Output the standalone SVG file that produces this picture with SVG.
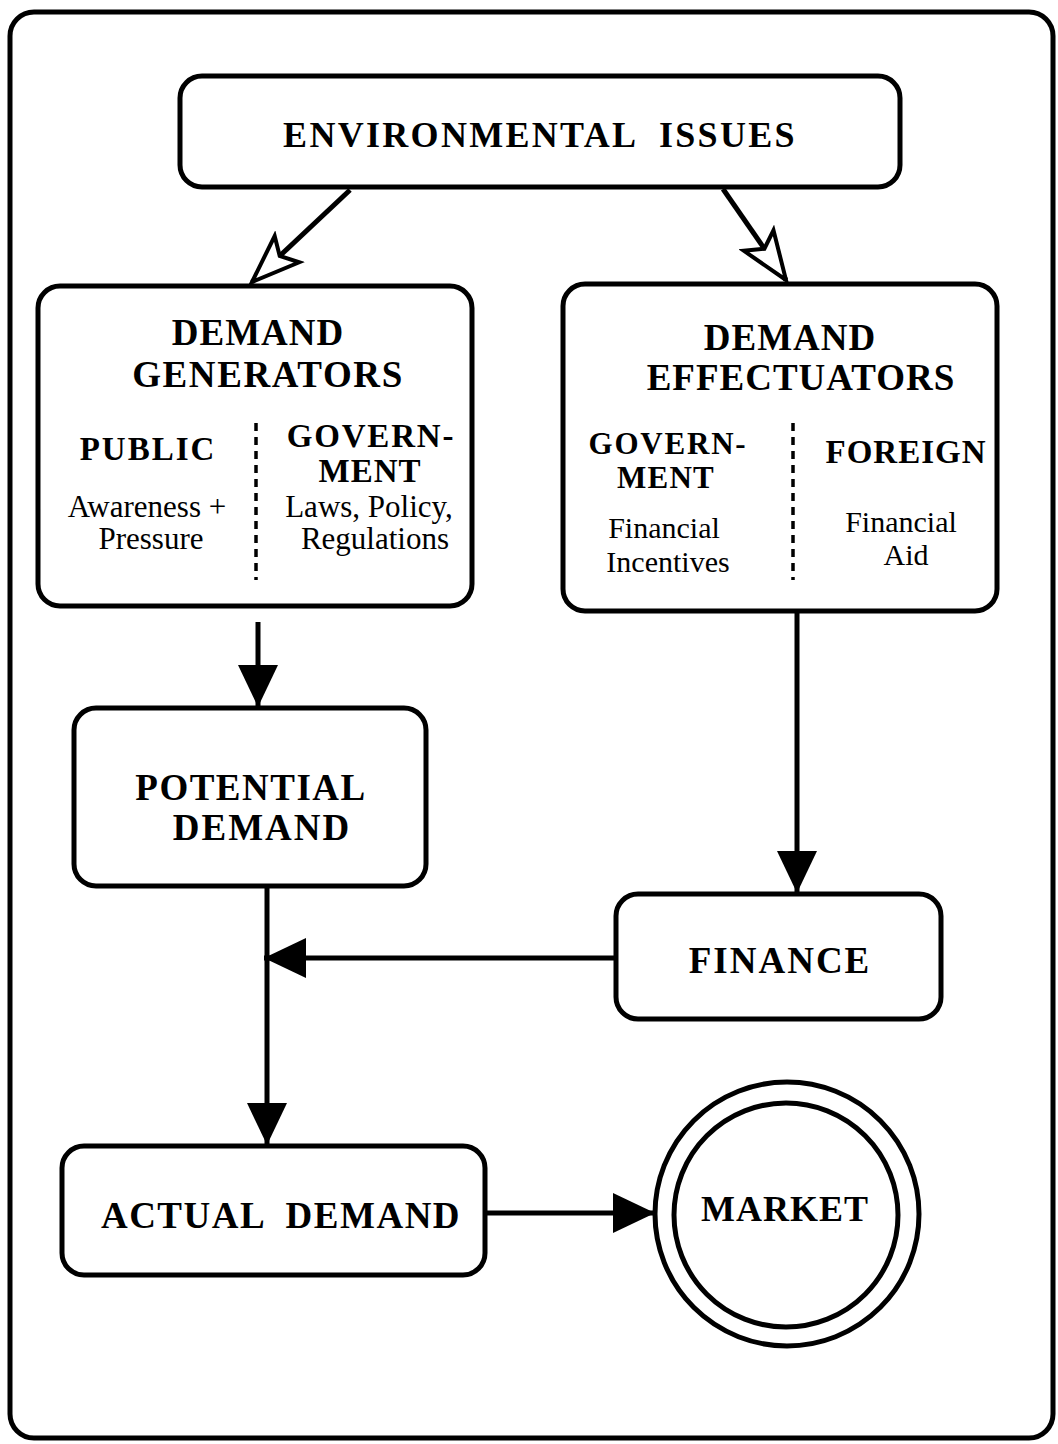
<svg xmlns="http://www.w3.org/2000/svg" width="1058" height="1444" viewBox="0 0 1058 1444">
<style>
.box{fill:#fff;stroke:#000;stroke-width:5}
.b{font-family:"Liberation Serif","Times New Roman",serif;font-weight:bold;fill:#000;text-anchor:middle;white-space:pre}
.r{font-family:"Liberation Serif","Times New Roman",serif;fill:#000;text-anchor:middle}
.ln{stroke:#000;stroke-width:5;fill:none}
.dash{stroke:#000;stroke-width:3.5;stroke-dasharray:8 6;fill:none}
</style>
<defs>
<marker id="solid" markerUnits="userSpaceOnUse" markerWidth="44" markerHeight="42" refX="42" refY="20" orient="auto" viewBox="0 0 44 42">
<path d="M0,0 L42,20 L0,40 z" fill="#000"/>
</marker>
<marker id="hollow" markerUnits="userSpaceOnUse" markerWidth="60" markerHeight="50" refX="52" refY="22" orient="auto" viewBox="0 0 60 50">
<path d="M4,4 L52,22 L4,40 L14,22 z" fill="#fff" stroke="#000" stroke-width="4" stroke-linejoin="miter"/>
</marker>
</defs>
<rect x="0" y="0" width="1058" height="1444" fill="#fff"/>
<rect x="10" y="12" width="1043" height="1426" rx="24" fill="none" stroke="#000" stroke-width="5"/>

<g id="connectors">
<line class="ln" x1="350" y1="190" x2="252" y2="282" stroke-width="7" marker-end="url(#hollow)"/>
<line class="ln" x1="723" y1="189" x2="786" y2="280" stroke-width="7" marker-end="url(#hollow)"/>
<line class="ln" x1="258" y1="622" x2="258" y2="707" marker-end="url(#solid)"/>
<line class="ln" x1="797" y1="612" x2="797" y2="893" marker-end="url(#solid)"/>
<line class="ln" x1="267" y1="887" x2="267" y2="1145" marker-end="url(#solid)"/>
<line class="ln" x1="615" y1="958" x2="264" y2="958" marker-end="url(#solid)"/>
<line class="ln" x1="486" y1="1213" x2="655" y2="1213" marker-end="url(#solid)"/>
</g>

<g id="environmental-issues">
<rect class="box" x="180" y="76" width="720" height="111" rx="22"/>
<text class="b" x="540" y="147" font-size="36" letter-spacing="2.3">ENVIRONMENTAL  ISSUES</text>
</g>

<g id="demand-generators">
<rect class="box" x="38" y="286" width="434" height="320" rx="22"/>
<text class="b" x="258" y="345" font-size="37" letter-spacing="1">DEMAND</text>
<text class="b" x="268" y="387" font-size="37" letter-spacing="1.6">GENERATORS</text>
<text class="b" x="148" y="460" font-size="33" letter-spacing="2">PUBLIC</text>
<text class="r" x="147" y="517" font-size="31">Awareness +</text>
<text class="r" x="151" y="549" font-size="31">Pressure</text>
<line class="dash" x1="256" y1="423" x2="256" y2="580"/>
<text class="b" x="371" y="447" font-size="33" letter-spacing="1.8">GOVERN-</text>
<text class="b" x="370" y="482" font-size="33" letter-spacing="1">MENT</text>
<text class="r" x="369" y="517" font-size="31">Laws, Policy,</text>
<text class="r" x="375" y="549" font-size="31">Regulations</text>
</g>

<g id="demand-effectuators">
<rect class="box" x="563" y="284" width="434" height="327" rx="22"/>
<text class="b" x="790" y="350" font-size="37" letter-spacing="1">DEMAND</text>
<text class="b" x="801" y="390" font-size="37" letter-spacing="1">EFFECTUATORS</text>
<text class="b" x="668" y="454" font-size="31" letter-spacing="1.8">GOVERN-</text>
<text class="b" x="666" y="488" font-size="31" letter-spacing="1.2">MENT</text>
<text class="r" x="664" y="538" font-size="30">Financial</text>
<text class="r" x="668" y="572" font-size="30">Incentives</text>
<line class="dash" x1="793" y1="423" x2="793" y2="580"/>
<text class="b" x="906" y="463" font-size="33" letter-spacing="1">FOREIGN</text>
<text class="r" x="901" y="532" font-size="30">Financial</text>
<text class="r" x="906" y="565" font-size="30">Aid</text>
</g>

<g id="potential-demand">
<rect class="box" x="74" y="708" width="352" height="178" rx="22"/>
<text class="b" x="251" y="800" font-size="37" letter-spacing="1.5">POTENTIAL</text>
<text class="b" x="262" y="840" font-size="37" letter-spacing="2">DEMAND</text>
</g>

<g id="finance">
<rect class="box" x="616" y="894" width="325" height="125" rx="22"/>
<text class="b" x="780" y="973" font-size="37" letter-spacing="2">FINANCE</text>
</g>

<g id="actual-demand">
<rect class="box" x="62" y="1146" width="423" height="129" rx="22"/>
<text class="b" x="281" y="1228" font-size="37" letter-spacing="1.5">ACTUAL  DEMAND</text>
</g>

<g id="market">
<circle cx="787" cy="1214" r="132" fill="#fff" stroke="#000" stroke-width="5"/>
<circle cx="786" cy="1215" r="112" fill="none" stroke="#000" stroke-width="5"/>
<text class="b" x="785" y="1221" font-size="36" letter-spacing="1">MARKET</text>
</g>
</svg>
